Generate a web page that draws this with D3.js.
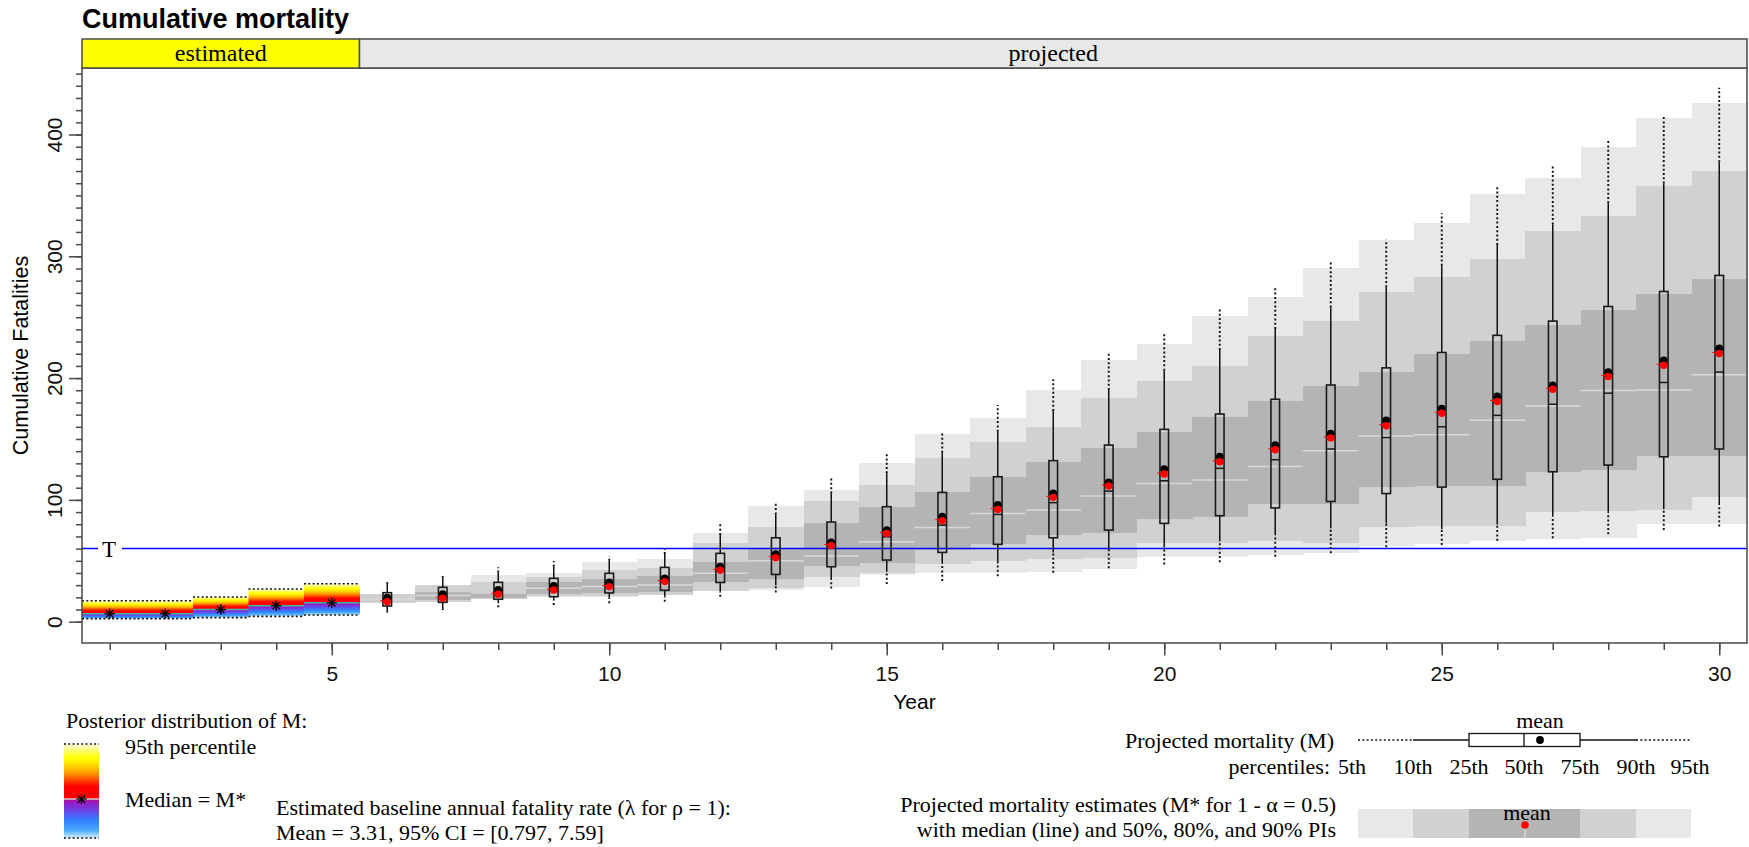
<!DOCTYPE html>
<html><head><meta charset="utf-8">
<script src="https://cdn.jsdelivr.net/npm/d3@7"></script>
<style>body{margin:0;background:#fff}svg{display:block}</style>
</head><body><svg id="c" width="1749" height="847"></svg>
<script>
// ---------------- data ----------------
const estYears = [1, 2, 3, 4, 5];
const estP95   = [17.2, 17.2, 20.3, 26.8, 31.2];
const estMed   = [6.5, 6.5, 10.0, 13.1, 15.5];
const estP5    = [2.5, 2.5, 3.3, 4.4, 5.5];

const projYears = [6,7,8,9,10,11,12,13,14,15,16,17,18,19,20,21,22,23,24,25,26,27,28,29,30];
// box-plot percentiles of projected mortality M
const p95 = [32.5,37.5,44.6,49.8,53.9,59.9,79.9,97.1,118.2,139.0,156.0,177.9,199.0,220.3,236.7,258.1,274.2,296.6,313.6,335.3,356.7,373.7,394.9,416.3,438.3];
const p90 = [31.0,36.1,40.3,45.2,50.1,55.6,71.2,88.1,105.3,121.8,138.7,156.0,173.0,190.2,206.1,223.0,240.3,257.9,274.6,292.2,309.2,326.2,343.5,359.7,377.3];
const p75 = [23.8,28.2,32.3,35.6,39.7,44.6,56.1,68.9,81.8,94.4,106.1,119.0,132.2,145.0,157.9,170.5,182.6,194.3,208.4,221.0,235.1,246.8,258.8,271.1,284.3];
const p50 = [18.5,20.5,23.3,27.1,30.1,33.7,41.5,52.8,60.2,69.7,79.3,88.1,97.7,107.2,115.7,125.9,133.0,141.8,151.2,160.0,169.4,178.5,187.6,196.4,205.0];
const p25 = [12.9,15.9,18.4,20.5,23.6,25.8,32.2,38.8,45.1,50.6,56.9,63.5,68.9,75.2,80.7,87.0,93.4,98.7,105.2,110.5,116.9,123.1,128.6,135.4,141.8];
const p10 = [8.5,11.0,15.1,17.3,19.2,20.5,24.7,30.0,34.2,41.0,47.9,49.2,56.9,60.2,62.9,66.0,70.9,76.7,80.9,75.9,79.7,86.4,89.0,92.3,95.8];
const p5  = [7.4,9.6,11.8,13.7,15.1,16.4,20.5,24.0,27.3,30.9,33.4,37.4,40.2,43.8,47.0,48.7,53.3,56.2,61.2,63.0,66.5,68.5,71.7,75.3,78.2];
const meanM   = [19.7,22.7,26.0,29.3,32.3,35.6,45.2,55.5,65.1,75.2,86.2,95.8,105.3,114.4,125.3,135.4,145.0,154.4,165.3,175.0,184.9,194.0,204.9,214.5,224.3];
// projected mortality estimates M* (mean, median and prediction intervals)
const meanEst = [16.4,19.2,22.5,26.0,28.8,32.9,42.2,52.5,62.6,72.5,82.9,92.2,102.1,111.4,121.2,131.3,141.2,150.9,160.9,171.1,180.8,190.8,201.3,210.5,220.2];
const piMed   = [18.2,21.4,23.5,27.4,28.8,30.1,39.7,50.0,54.0,65.6,77.4,88.9,91.6,103.1,113.5,116.3,127.4,140.4,152.4,153.5,165.3,177.0,189.8,190.2,202.8];
const pi50Lo  = [18.2,17.8,19.2,22.7,23.3,24.1,32.9,35.0,45.7,48.4,58.8,63.7,71.1,72.5,84.3,86.2,96.4,97.0,110.5,111.0,111.0,122.8,124.2,136.0,136.3];
const pi50Hi  = [18.2,24.1,24.6,32.9,34.8,37.8,48.7,60.2,81.2,93.8,106.7,118.5,131.3,142.8,156.0,168.3,180.8,193.4,205.2,219.5,230.7,243.9,255.6,268.8,281.4];
const pi80Lo  = [15.6,16.5,18.8,21.1,21.1,21.9,25.5,27.5,36.9,40.2,47.0,49.8,51.1,52.5,64.3,64.8,66.5,65.0,77.6,78.2,78.8,89.9,90.5,91.4,102.5];
const pi80Hi  = [22.4,30.0,32.9,37.0,42.4,43.8,64.9,78.0,99.0,112.2,134.6,147.2,160.1,183.9,197.6,210.2,234.5,246.8,270.5,283.4,297.5,321.0,333.0,357.6,369.9];
const pi90Lo  = [15.5,16.4,18.5,20.5,20.5,21.5,25.0,26.0,28.7,38.3,39.6,39.6,41.0,43.0,53.3,52.8,54.7,56.2,62.1,63.5,66.5,67.9,68.5,80.3,80.3];
const pi90Hi  = [22.5,30.1,38.3,40.3,48.7,51.2,72.6,94.9,108.1,130.5,153.8,167.5,190.2,214.8,227.7,250.9,266.4,290.2,313.6,327.4,350.9,364.1,389.9,413.3,426.2];

const threshold = 60;
const xMajorTicks = [5, 10, 15, 20, 25, 30];
const xMinorTicks = [1,2,3,4,5,6,7,8,9,10,11,12,13,14,15,16,17,18,19,20,21,22,23,24,25,26,27,28,29,30];
const yMajorTicks = [0, 100, 200, 300, 400];
const yMinorTicks = [0,10,20,30,40,50,60,70,80,90,100,110,120,130,140,150,160,170,180,190,200,210,220,230,240,250,260,270,280,290,300,310,320,330,340,350,360,370,380,390,400,410,420,430,440,450];
const legendPctLabels = ["5th","10th","25th","50th","75th","90th","95th"];

// ---------------- setup ----------------
const svg = d3.select('#c');
const SANS = "'Liberation Sans', Arial, sans-serif";
const SERIF = "'Liberation Serif', 'Times New Roman', serif";
const AX = '#4a4a4a';
const L = 82, R = 1747, T = 68, B = 643;
const x = d3.scaleLinear().domain([0.5, 30.5]).range([L, R]);
const y = d3.scaleLinear().domain([-17.5, 454.6]).range([B, T]);
const defs = svg.append('defs');
const DOT = '2,2.3';
const LFS = 22;

function gradStops(f) {
  return [
    [0, '#ffffe6'], [0.12*f, '#ffff70'], [0.26*f, '#ffff00'], [0.42*f, '#ffcc00'],
    [0.56*f, '#ff8800'], [0.7*f, '#ff2a00'], [0.78*f, '#ff0000'], [f, '#ff0000'],
    [f, '#b0109a'], [f + 0.12*(1-f), '#9020c8'], [f + 0.35*(1-f), '#6050f0'],
    [f + 0.55*(1-f), '#3080ff'], [f + 0.8*(1-f), '#48aaff'], [1, '#d4f0ff']
  ];
}
function addGrad(id, f) {
  const g = defs.append('linearGradient').attr('id', id)
    .attr('x1', 0).attr('y1', 0).attr('x2', 0).attr('y2', 1);
  gradStops(f).forEach(s => g.append('stop').attr('offset', s[0]).attr('stop-color', s[1]));
}
function asterisk(g, cx, cy, r) {
  const a = r * 0.72;
  [[-r,0,r,0],[0,-r,0,r],[-a,-a,a,a],[-a,a,a,-a]].forEach(s =>
    g.append('line').attr('x1', cx+s[0]).attr('y1', cy+s[1]).attr('x2', cx+s[2]).attr('y2', cy+s[3])
      .attr('stroke', '#000').attr('stroke-width', 1.3));
}

// ---------------- PI bands ----------------
const gB = svg.append('g').attr('shape-rendering', 'crispEdges');
const bw = x(1.5) - x(0.5);
[[pi90Lo, pi90Hi, '#e8e8e8'], [pi80Lo, pi80Hi, '#d1d1d1'], [pi50Lo, pi50Hi, '#b4b4b4']].forEach(([lo, hi, c]) => {
  gB.selectAll(null).data(projYears).join('rect')
    .attr('x', d => x(d - 0.5)).attr('width', bw + 0.6)
    .attr('y', (d, i) => y(hi[i])).attr('height', (d, i) => Math.max(0, y(lo[i]) - y(hi[i])))
    .attr('fill', c);
});
svg.append('g').selectAll('line').data(projYears).join('line')
  .attr('x1', d => x(d - 0.5)).attr('x2', d => x(d + 0.5))
  .attr('y1', (d, i) => y(piMed[i])).attr('y2', (d, i) => y(piMed[i]))
  .attr('stroke', '#d8d8d8').attr('stroke-width', 1.5);

// ---------------- estimated blocks ----------------
const gE = svg.append('g');
estYears.forEach((yr, i) => {
  const top = y(estP95[i]), bot = y(estP5[i]), med = y(estMed[i]);
  addGrad('eg' + i, (med - top) / (bot - top));
  gE.append('rect').attr('x', x(yr - 0.5)).attr('width', bw + 0.5)
    .attr('y', top).attr('height', bot - top).attr('fill', `url(#eg${i})`);
});
estYears.forEach((yr, i) => {
  const x0 = x(yr - 0.5), x1 = x(yr + 0.5);
  [estP95[i], estP5[i]].forEach(v => gE.append('line').attr('x1', x0).attr('x2', x1)
    .attr('y1', y(v)).attr('y2', y(v)).attr('stroke', '#111').attr('stroke-width', 1.6)
    .attr('stroke-dasharray', DOT));
  gE.append('line').attr('x1', x0).attr('x2', x1).attr('y1', y(estMed[i])).attr('y2', y(estMed[i]))
    .attr('stroke', '#3fb8ac').attr('stroke-width', 1.4);
  asterisk(gE, x(yr), y(estMed[i]), 5.2);
});

// ---------------- threshold line ----------------
svg.append('line').attr('x1', L).attr('x2', R).attr('y1', y(threshold)).attr('y2', y(threshold))
  .attr('stroke', '#0000ff').attr('stroke-width', 1.5);
svg.append('rect').attr('x', 98).attr('y', y(threshold) - 10).attr('width', 24).attr('height', 20).attr('fill', '#fff');
svg.append('text').attr('x', 109).attr('y', y(threshold) + 8).attr('text-anchor', 'middle')
  .attr('font-family', SERIF).attr('font-size', 23).attr('fill', '#000').text('T');

// ---------------- box plots ----------------
const gP = svg.append('g');
const hw = 4.3;
projYears.forEach((yr, i) => {
  const cx = x(yr);
  const seg = (a, b, dash) => gP.append('line').attr('x1', cx).attr('x2', cx).attr('y1', y(a)).attr('y2', y(b))
    .attr('stroke', '#111').attr('stroke-width', dash ? 1.9 : 1.5).attr('stroke-dasharray', dash ? DOT : null);
  seg(p90[i], p95[i], true);
  seg(p5[i], p10[i], true);
  seg(p75[i], p90[i], false);
  seg(p10[i], p25[i], false);
  gP.append('rect').attr('x', cx - hw).attr('width', 2 * hw).attr('y', y(p75[i]))
    .attr('height', y(p25[i]) - y(p75[i])).attr('fill', 'none').attr('stroke', '#1a1a1a').attr('stroke-width', 1.6);
  gP.append('line').attr('x1', cx - hw).attr('x2', cx + hw).attr('y1', y(p50[i])).attr('y2', y(p50[i]))
    .attr('stroke', '#1a1a1a').attr('stroke-width', 1.5);
  gP.append('circle').attr('cx', cx).attr('cy', y(meanM[i])).attr('r', 3.9).attr('fill', '#000');
  gP.append('line').attr('x1', cx - 7).attr('x2', cx - 2).attr('y1', y(meanEst[i]) - 1).attr('y2', y(meanEst[i]) - 1)
    .attr('stroke', '#ff0000').attr('stroke-width', 1);
  gP.append('circle').attr('cx', cx).attr('cy', y(meanEst[i])).attr('r', 3.7).attr('fill', '#ff0000');
});

// ---------------- axes & frame ----------------
const xMinor = d3.axisBottom(x).tickValues(xMinorTicks).tickSize(7).tickFormat('');
const xMajor = d3.axisBottom(x).tickValues(xMajorTicks).tickSize(12.5).tickPadding(11).tickFormat(d3.format('d'));
[xMinor, xMajor].forEach(ax => {
  const g = svg.append('g').attr('transform', `translate(0,${B})`).call(ax);
  g.select('.domain').remove();
  g.selectAll('line').attr('stroke', AX).attr('stroke-width', 1.5);
  g.selectAll('text').attr('font-family', SANS).attr('font-size', 21).attr('fill', '#111');
});
const yMinor = d3.axisLeft(y).tickValues(yMinorTicks).tickSize(6).tickFormat('');
const yMajor = d3.axisLeft(y).tickValues(yMajorTicks).tickSize(13).tickFormat(d3.format('d'));
[yMinor, yMajor].forEach(ax => {
  const g = svg.append('g').attr('transform', `translate(${L},0)`).call(ax);
  g.select('.domain').remove();
  g.selectAll('line').attr('stroke', AX).attr('stroke-width', 1.5);
  g.selectAll('text').attr('font-family', SANS).attr('font-size', 21).attr('fill', '#111')
    .attr('transform', 'rotate(-90)').attr('x', 0).attr('y', -20).attr('dy', 0).attr('text-anchor', 'middle');
});
svg.append('rect').attr('x', L).attr('y', T).attr('width', R - L).attr('height', B - T)
  .attr('fill', 'none').attr('stroke', AX).attr('stroke-width', 1.5);

// strip
const stripTop = 39;
svg.append('rect').attr('x', L).attr('y', stripTop).attr('width', x(5.5) - L).attr('height', T - stripTop)
  .attr('fill', '#ffff00').attr('stroke', AX).attr('stroke-width', 1.5);
svg.append('rect').attr('x', x(5.5)).attr('y', stripTop).attr('width', R - x(5.5)).attr('height', T - stripTop)
  .attr('fill', '#e8e8e8').attr('stroke', AX).attr('stroke-width', 1.5);
svg.append('text').attr('x', (L + x(5.5)) / 2).attr('y', 61).attr('text-anchor', 'middle')
  .attr('font-family', SERIF).attr('font-size', 24).text('estimated');
svg.append('text').attr('x', (x(5.5) + R) / 2).attr('y', 61).attr('text-anchor', 'middle')
  .attr('font-family', SERIF).attr('font-size', 24).text('projected');

// titles
svg.append('text').attr('x', L).attr('y', 28).attr('font-family', SANS).attr('font-weight', 'bold')
  .attr('font-size', 27).text('Cumulative mortality');
svg.append('text').attr('x', (L + R) / 2).attr('y', 709).attr('text-anchor', 'middle')
  .attr('font-family', SANS).attr('font-size', 21).text('Year');
svg.append('text').attr('transform', `translate(28,${(T + B) / 2}) rotate(-90)`).attr('text-anchor', 'middle')
  .attr('font-family', SANS).attr('font-size', 21.5).text('Cumulative Fatalities');

// ---------------- legend: posterior ----------------
const lg = svg.append('g').attr('font-family', SERIF).attr('font-size', LFS).attr('fill', '#000');
lg.append('text').attr('x', 66).attr('y', 728).text('Posterior distribution of M:');
const gx0 = 64, gx1 = 99, gy0 = 744, gy1 = 838, gm = 799;
addGrad('lgGrad', (gm - gy0) / (gy1 - gy0));
lg.append('rect').attr('x', gx0).attr('y', gy0).attr('width', gx1 - gx0).attr('height', gy1 - gy0).attr('fill', 'url(#lgGrad)');
[gy0, gy1].forEach(v => lg.append('line').attr('x1', gx0).attr('x2', gx1).attr('y1', v).attr('y2', v)
  .attr('stroke', '#111').attr('stroke-width', 1.5).attr('stroke-dasharray', DOT));
lg.append('line').attr('x1', gx0).attr('x2', gx1).attr('y1', gm).attr('y2', gm).attr('stroke', '#d8c8d0').attr('stroke-width', 1.4);
asterisk(lg, (gx0 + gx1) / 2, gm, 5.2);
lg.append('text').attr('x', 125).attr('y', 754).text('95th percentile');
lg.append('text').attr('x', 125).attr('y', 807).text('Median = M*');
lg.append('text').attr('x', 276).attr('y', 815).text('Estimated baseline annual fatality rate (\u03bb for \u03c1 = 1):');
lg.append('text').attr('x', 276).attr('y', 840).text('Mean = 3.31, 95% CI = [0.797, 7.59]');

// ---------------- legend: projected ----------------
const rg = svg.append('g').attr('font-family', SERIF).attr('font-size', LFS).attr('fill', '#000');
const pctX = [1358, 1413, 1469, 1524, 1580, 1636, 1690];
const lbY = 740;
rg.append('text').attr('x', 1334).attr('y', lbY + 8).attr('text-anchor', 'end').text('Projected mortality (M)');
rg.append('text').attr('x', 1330).attr('y', 774).attr('text-anchor', 'end').text('percentiles:');
const lblX = [1352, 1413, 1469, 1524, 1580, 1636, 1690];
legendPctLabels.forEach((t, i) => rg.append('text').attr('x', lblX[i]).attr('y', 774).attr('text-anchor', 'middle').text(t));
const ln = (a, b, dash) => rg.append('line').attr('x1', a).attr('x2', b).attr('y1', lbY).attr('y2', lbY)
  .attr('stroke', '#111').attr('stroke-width', dash ? 1.7 : 1.4).attr('stroke-dasharray', dash ? DOT : null);
ln(pctX[0], pctX[1], true); ln(pctX[1], pctX[2], false); ln(pctX[4], pctX[5], false); ln(pctX[5], pctX[6], true);
rg.append('rect').attr('x', pctX[2]).attr('y', lbY - 6.5).attr('width', pctX[4] - pctX[2]).attr('height', 13)
  .attr('fill', '#fff').attr('stroke', '#222').attr('stroke-width', 1.4);
rg.append('line').attr('x1', pctX[3]).attr('x2', pctX[3]).attr('y1', lbY - 6.5).attr('y2', lbY + 6.5).attr('stroke', '#222').attr('stroke-width', 1.4);
rg.append('circle').attr('cx', 1540).attr('cy', lbY).attr('r', 3.9).attr('fill', '#000');
rg.append('text').attr('x', 1540).attr('y', 728).attr('text-anchor', 'middle').text('mean');

rg.append('text').attr('x', 1336).attr('y', 812).attr('text-anchor', 'end').text('Projected mortality estimates (M* for 1 - \u03b1 = 0.5)');
rg.append('text').attr('x', 1336).attr('y', 837).attr('text-anchor', 'end').text('with median (line) and 50%, 80%, and 90% PIs');
const barY0 = 809, barY1 = 838;
const barCols = ['#e8e8e8', '#d1d1d1', '#b4b4b4', '#b4b4b4', '#d1d1d1', '#e8e8e8'];
const gBar = rg.append('g').attr('shape-rendering', 'crispEdges');
for (let k = 0; k < 6; k++) {
  gBar.append('rect').attr('x', pctX[k]).attr('width', pctX[k + 1] - pctX[k] + 0.5).attr('y', barY0).attr('height', barY1 - barY0).attr('fill', barCols[k]);
}
rg.append('line').attr('x1', 1525).attr('x2', 1525).attr('y1', 826).attr('y2', barY1).attr('stroke', '#d8d8d8').attr('stroke-width', 1.5);
rg.append('text').attr('x', 1527).attr('y', 820).attr('text-anchor', 'middle').text('mean');
rg.append('circle').attr('cx', 1525).attr('cy', 825).attr('r', 3.8).attr('fill', '#ff0000');
</script>
</body></html>
